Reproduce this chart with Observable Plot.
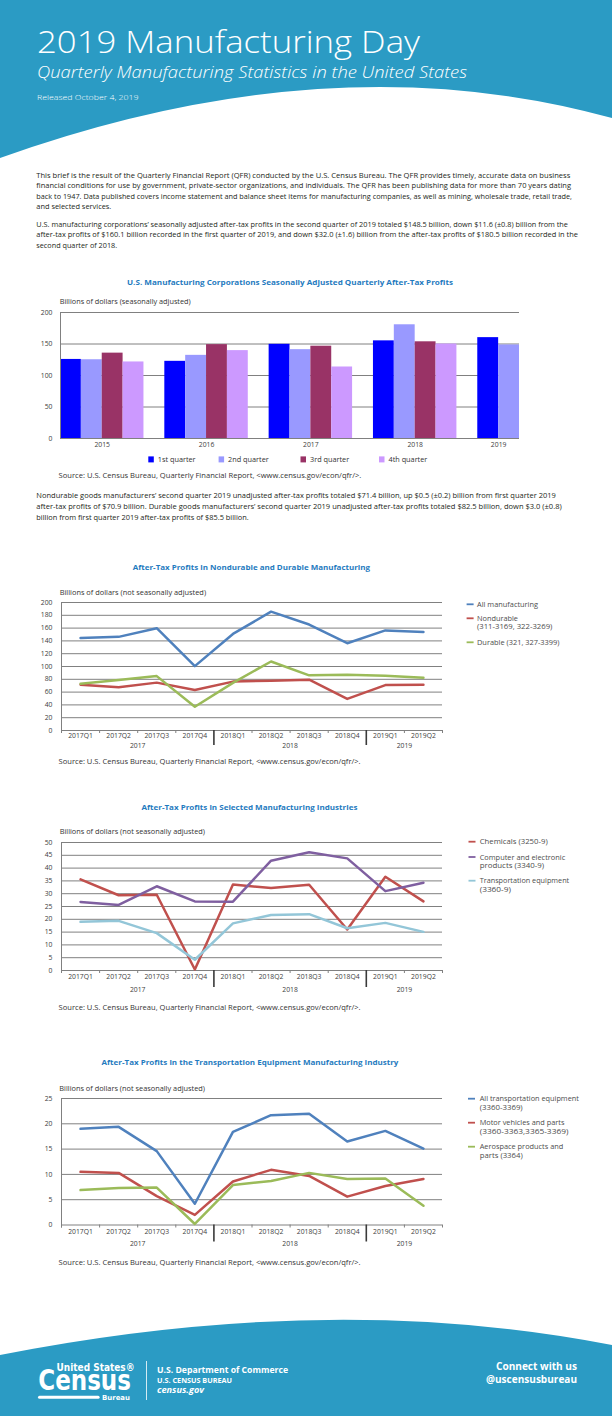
<!DOCTYPE html>
<html><head><meta charset="utf-8">
<script src="https://cdn.jsdelivr.net/npm/d3@7"></script>
<script src="https://cdn.jsdelivr.net/npm/@observablehq/plot@0.6"></script>
<style>
html,body{margin:0;padding:0;background:#fff;}
#page{position:relative;width:612px;height:1416px;overflow:hidden;font-family:"Open Sans",sans-serif;}
.chart{position:absolute;left:0;width:612px;}
#deco{position:absolute;left:0;top:0;pointer-events:none;}
#deco text{font-family:"Open Sans",sans-serif;}
.para{font-size:7px;fill:#231f20;}
.ctitle{font-size:7.6px;font-weight:700;fill:#1f7bc0;}
.axlab{font-size:7px;fill:#333;}
.src{font-size:7px;fill:#333;}
.leg{font-size:7px;fill:#4d4d4d;}
#deco text.cond{font-family:"Liberation Sans Narrow","DejaVu Sans Condensed","Roboto",sans-serif;font-weight:700;}
</style></head><body>
<div id="page">
<div class="chart" id="c1" style="top:296px"></div>
<div class="chart" id="c2" style="top:590px"></div>
<div class="chart" id="c3" style="top:830px"></div>
<div class="chart" id="c4" style="top:1086px"></div>

<svg id="deco" width="612" height="1416" viewBox="0 0 612 1416">
  <path d="M0,0H612V118Q330,40 0,158Z" fill="#2b9bc4"/>
  <path d="M0,1355Q330,1290 612,1345V1416H0Z" fill="#2b9bc4"/>

  <text x="37" y="53" textLength="383" lengthAdjust="spacingAndGlyphs" style="font-size:30.5px;font-weight:300;fill:#fff">2019 Manufacturing Day</text>
  <text x="37" y="77.5" textLength="430" lengthAdjust="spacingAndGlyphs" style="font-size:16.5px;font-weight:300;font-style:italic;fill:#fff">Quarterly Manufacturing Statistics in the United States</text>
  <text x="37" y="100" textLength="101.6" lengthAdjust="spacingAndGlyphs" style="font-size:7.5px;font-weight:300;fill:#fff">Released October 4, 2019</text>

  <text class="para" x="36.3" y="177.5" textLength="534" lengthAdjust="spacingAndGlyphs">This brief is the result of the Quarterly Financial Report (QFR) conducted by the U.S. Census Bureau. The QFR provides timely, accurate data on business</text>
  <text class="para" x="36.3" y="188" textLength="534.7" lengthAdjust="spacingAndGlyphs">financial conditions for use by government, private-sector organizations, and individuals. The QFR has been publishing data for more than 70 years dating</text>
  <text class="para" x="36.3" y="198.5" textLength="535.7" lengthAdjust="spacingAndGlyphs">back to 1947. Data published covers income statement and balance sheet items for manufacturing companies, as well as mining, wholesale trade, retail trade,</text>
  <text class="para" x="36.3" y="209" textLength="75" lengthAdjust="spacingAndGlyphs">and selected services.</text>
  <text class="para" x="36.3" y="226.8" textLength="531.7" lengthAdjust="spacingAndGlyphs">U.S. manufacturing corporations’ seasonally adjusted after-tax profits in the second quarter of 2019 totaled $148.5 billion, down $11.6 (±0.8) billion from the</text>
  <text class="para" x="36.3" y="237.4" textLength="541.7" lengthAdjust="spacingAndGlyphs">after-tax profits of $160.1 billion recorded in the first quarter of 2019, and down $32.0 (±1.6) billion from the after-tax profits of $180.5 billion recorded in the</text>
  <text class="para" x="36.3" y="248" textLength="80.8" lengthAdjust="spacingAndGlyphs">second quarter of 2018.</text>

  <text class="ctitle" x="127" y="285.3" textLength="326" lengthAdjust="spacingAndGlyphs">U.S. Manufacturing Corporations Seasonally Adjusted Quarterly After-Tax Profits</text>
  <text class="axlab" x="59.7" y="304.2" textLength="131" lengthAdjust="spacingAndGlyphs">Billions of dollars (seasonally adjusted)</text>
  <g id="leg1"></g>
  <text class="src" x="58.6" y="477.5" textLength="302.7" lengthAdjust="spacingAndGlyphs">Source: U.S. Census Bureau, Quarterly Financial Report, &lt;www.census.gov/econ/qfr/&gt;.</text>

  <text class="para" x="36.3" y="497.5" textLength="519.5" lengthAdjust="spacingAndGlyphs">Nondurable goods manufacturers’ second quarter 2019 unadjusted after-tax profits totaled $71.4 billion,  up $0.5 (±0.2) billion from first quarter 2019</text>
  <text class="para" x="36.3" y="509" textLength="525.4" lengthAdjust="spacingAndGlyphs">after-tax profits of $70.9 billion. Durable goods manufacturers’ second quarter 2019 unadjusted after-tax profits totaled $82.5 billion, down $3.0 (±0.8)</text>
  <text class="para" x="36.3" y="519.8" textLength="212.5" lengthAdjust="spacingAndGlyphs">billion from first quarter 2019 after-tax profits of $85.5 billion.</text>

  <text class="ctitle" x="132.7" y="569.5" textLength="237.3" lengthAdjust="spacingAndGlyphs">After-Tax Profits in Nondurable and Durable Manufacturing</text>
  <text class="axlab" x="59.7" y="594.8" textLength="146.4" lengthAdjust="spacingAndGlyphs">Billions of dollars (not seasonally adjusted)</text>
  <g id="leg2"></g>
  <text class="src" x="58.6" y="764.2" textLength="302" lengthAdjust="spacingAndGlyphs">Source: U.S. Census Bureau, Quarterly Financial Report, &lt;www.census.gov/econ/qfr/&gt;.</text>

  <text class="ctitle" x="141.4" y="809.8" textLength="216" lengthAdjust="spacingAndGlyphs">After-Tax Profits in Selected Manufacturing Industries</text>
  <text class="axlab" x="59.7" y="834.2" textLength="145.3" lengthAdjust="spacingAndGlyphs">Billions of dollars (not seasonally adjusted)</text>
  <g id="leg3"></g>
  <text class="src" x="58.6" y="1009.8" textLength="302" lengthAdjust="spacingAndGlyphs">Source: U.S. Census Bureau, Quarterly Financial Report, &lt;www.census.gov/econ/qfr/&gt;.</text>

  <text class="ctitle" x="101.5" y="1064.8" textLength="296.9" lengthAdjust="spacingAndGlyphs">After-Tax Profits in the Transportation Equipment Manufacturing Industry</text>
  <text class="axlab" x="59.3" y="1090.8" textLength="145.7" lengthAdjust="spacingAndGlyphs">Billions of dollars (not seasonally adjusted)</text>
  <g id="leg4"></g>
  <text class="src" x="58.6" y="1264.8" textLength="302" lengthAdjust="spacingAndGlyphs">Source: U.S. Census Bureau, Quarterly Financial Report, &lt;www.census.gov/econ/qfr/&gt;.</text>

  <!-- footer: Census wordmark as one text block -->
  <text class="cond" style="fill:#fff"><tspan x="56.6" y="1370.5" textLength="78" lengthAdjust="spacingAndGlyphs" style="font-size:11px">United States®</tspan><tspan x="38.3" y="1390" textLength="92.6" lengthAdjust="spacingAndGlyphs" style="font-size:28px">Census</tspan><tspan x="102" y="1400" textLength="28" lengthAdjust="spacingAndGlyphs" style="font-size:7px">Bureau</tspan></text>
  <rect x="38" y="1395.8" width="61.6" height="3" rx="1.5" fill="#fff"/>
  <line x1="146.5" x2="146.5" y1="1361" y2="1400" stroke="#fff" stroke-width="0.8"/>
  <text x="157" y="1373.3" textLength="131" lengthAdjust="spacingAndGlyphs" style="font-size:9.5px;font-weight:700;fill:#fff">U.S. Department of Commerce</text>
  <text x="157" y="1383" textLength="75" lengthAdjust="spacingAndGlyphs" style="font-size:6.5px;font-weight:700;fill:#fff">U.S. CENSUS BUREAU</text>
  <text x="157" y="1393.3" textLength="47" lengthAdjust="spacingAndGlyphs" style="font-size:9px;font-weight:700;font-style:italic;fill:#fff">census.gov</text>
  <text x="577" y="1370" text-anchor="end" textLength="81" lengthAdjust="spacingAndGlyphs" style="font-size:10px;font-weight:700;fill:#fff">Connect with us</text>
  <text x="577" y="1382.5" text-anchor="end" textLength="91" lengthAdjust="spacingAndGlyphs" style="font-size:10px;font-weight:700;fill:#fff">@uscensusbureau</text>
</svg>
</div>

<script>
// ---------- Chart 1 data ----------
const years1 = ["2015", "2016", "2017", "2018", "2019"];
const quarterNames = ["1st quarter", "2nd quarter", "3rd quarter", "4th quarter"];
const q1Profits = [125.5, 122.5, 149.5, 155.0, 160.1];
const q2Profits = [125.0, 132.0, 141.0, 180.5, 148.5];
const q3Profits = [135.5, 149.0, 146.5, 153.5];
const q4Profits = [121.5, 139.5, 113.5, 150.0];
const barColors = ["#0000ff", "#9999ff", "#993366", "#cc99ff"];
const yTicks1 = [0, 50, 100, 150, 200];

// ---------- Line chart data ----------
const quarters = ["2017Q1", "2017Q2", "2017Q3", "2017Q4", "2018Q1", "2018Q2", "2018Q3", "2018Q4", "2019Q1", "2019Q2"];

const names2 = ["All manufacturing", "Nondurable", "Durable"];
const allManufacturing = [144.5, 146.3, 159.8, 100.6, 150.9, 185.7, 165.6, 136.4, 156.4, 153.9];
const nondurable = [71.5, 67.5, 74.8, 63.4, 76.4, 77.9, 79.4, 49.4, 70.9, 71.4];
const durable = [73.0, 78.8, 85.0, 37.2, 74.5, 107.8, 86.2, 87.0, 85.5, 82.5];
const colors2 = ["#4f81bd", "#c0504d", "#9bbb59"];

const names3 = ["Chemicals", "Computer and electronic products", "Transportation equipment"];
const chemicals = [35.6, 29.4, 29.6, 0.4, 33.6, 32.2, 33.5, 16.0, 36.6, 27.0];
const computerElectronic = [26.8, 25.6, 32.9, 27.0, 26.9, 42.9, 46.2, 43.8, 31.0, 34.3];
const transportationEquip = [19.0, 19.4, 14.6, 4.2, 18.4, 21.7, 22.0, 16.5, 18.6, 15.1];
const colors3 = ["#c0504d", "#7f5fa0", "#93c6d8"];

const names4 = ["All transportation equipment", "Motor vehicles and parts", "Aerospace products and parts"];
const allTransportation = [19.0, 19.4, 14.6, 4.2, 18.4, 21.7, 22.0, 16.5, 18.6, 15.1];
const motorVehicles = [10.5, 10.3, 5.7, 2.0, 8.6, 10.9, 9.7, 5.6, 7.7, 9.1];
const aerospace = [6.9, 7.3, 7.4, 0.2, 7.9, 8.7, 10.3, 9.1, 9.2, 3.8];
const colors4 = ["#4f81bd", "#c0504d", "#9bbb59"];

const plotStyle = {fontFamily: "'Open Sans', sans-serif", fontSize: "7px", color: "#404040", background: "transparent", overflow: "visible"};
const gridColor = "#808080";
const SVGNS = "http://www.w3.org/2000/svg";

// ---------- Chart 1: grouped bars ----------
(function () {
  const seriesQ = [q1Profits, q2Profits, q3Profits, q4Profits];
  const slotsPerYear = quarterNames.length + 1; // four bars + one gap
  const rows = [];
  seriesQ.forEach((vals, k) => vals.forEach((v, i) => rows.push({year: years1[i], quarter: quarterNames[k], value: v, slot: i * slotsPerYear + k})));
  const yearLabels = years1.map((y, i) => {
    const n = seriesQ.filter(s => s[i] != null).length;
    return {year: y, center: i * slotsPerYear + n / 2, n};
  });
  const last = yearLabels[yearLabels.length - 1];
  const xMax = (years1.length - 1) * slotsPerYear + last.n;
  const plot = Plot.plot({
    width: 612, height: 162,
    marginTop: 16, marginBottom: 20, marginLeft: 60, marginRight: 93,
    x: {domain: [0, xMax], axis: null, label: null},
    y: {domain: [0, 200], label: null},
    color: {domain: quarterNames, range: barColors},
    style: plotStyle,
    marks: [
      Plot.gridY(yTicks1, {stroke: gridColor, strokeOpacity: 1}),
      Plot.rectY(rows, {x1: "slot", x2: d => d.slot + 1, y: "value", fill: "quarter"}),
      Plot.ruleX([0], {stroke: gridColor}),
      Plot.ruleY([0], {stroke: gridColor}),
      Plot.axisY(yTicks1, {tickSize: 0, tickPadding: 8, fontSize: 6.8, fill: "#404040", label: null}),
      Plot.text(yearLabels, {x: "center", text: "year", frameAnchor: "bottom", dy: 8.7, fontSize: 6.8, fill: "#404040"})
    ]
  });
  document.getElementById("c1").append(plot);

  // legend
  const g = document.getElementById("leg1");
  const lx = [148.3, 218.6, 300.5, 379];
  quarterNames.forEach((name, i) => {
    const r = document.createElementNS(SVGNS, "rect");
    r.setAttribute("x", lx[i]); r.setAttribute("y", 456.4); r.setAttribute("width", 5.5); r.setAttribute("height", 6);
    r.setAttribute("fill", barColors[i]);
    g.append(r);
    const t = document.createElementNS(SVGNS, "text");
    t.setAttribute("x", lx[i] + 9.5); t.setAttribute("y", 462.2); t.setAttribute("class", "leg");
    t.style.fontSize = "7.3px"; t.style.fill = "#333";
    t.textContent = name;
    g.append(t);
  });
})();

// ---------- Line charts ----------
function drawLineChart(cfg) {
  const rows = cfg.series.flatMap((vals, k) => vals.map((v, i) => ({series: cfg.names[k], pos: i + 0.5, value: v})));
  const yTicks = d3.range(0, cfg.yMax + cfg.yStep / 2, cfg.yStep);
  const n = quarters.length;
  const groups = d3.groups(quarters.map((q, i) => ({q, i})), d => d.q.slice(0, 4))
    .map(([year, items]) => ({year, start: items[0].i, center: items[0].i + items.length / 2}));
  const seps = groups.slice(1).map(d => d.start);
  const smallTicks = d3.range(0, n + 1).filter(b => !seps.includes(b));
  const plot = Plot.plot({
    width: 612, height: cfg.mt + cfg.ph + cfg.mb,
    marginTop: cfg.mt, marginBottom: cfg.mb, marginLeft: 61, marginRight: 170,
    x: {domain: [0, n], label: null},
    y: {domain: [0, cfg.yMax], label: null},
    color: {domain: cfg.names, range: cfg.colors},
    style: plotStyle,
    marks: [
      Plot.gridY(yTicks, {stroke: gridColor, strokeOpacity: 1}),
      Plot.ruleX([0], {stroke: gridColor, insetBottom: -3}),
      Plot.axisX(smallTicks, {tickSize: 3, tickFormat: () => "", stroke: gridColor, strokeOpacity: 1, label: null}),
      Plot.axisX(seps, {tickSize: cfg.sepLen, tickFormat: () => "", stroke: "#3a3a3a", strokeWidth: 1.6, strokeOpacity: 1, label: null}),
      Plot.axisY(yTicks, {tickSize: 0, tickPadding: 9, fontSize: 6.8, fill: "#404040", label: null}),
      Plot.line(rows, {x: "pos", y: "value", z: "series", stroke: "series", strokeWidth: 2.5}),
      Plot.text(quarters, {x: (d, i) => i + 0.5, text: d => d, frameAnchor: "bottom", dy: cfg.catDy, fontSize: 6.8, fill: "#404040"}),
      Plot.text(groups, {x: "center", text: "year", frameAnchor: "bottom", dy: cfg.yearDy, fontSize: 6.8, fill: "#404040"})
    ]
  });
  document.getElementById(cfg.el).append(plot);

  // legend (in the page overlay)
  const g = document.getElementById(cfg.leg);
  cfg.legendLines.forEach((lines, k) => {
    const y = cfg.legendY[k];
    const l = document.createElementNS(SVGNS, "line");
    l.setAttribute("x1", cfg.swatchX); l.setAttribute("x2", cfg.swatchX + 7);
    l.setAttribute("y1", y); l.setAttribute("y2", y);
    l.setAttribute("stroke", cfg.colors[k]); l.setAttribute("stroke-width", 1.8);
    g.append(l);
    lines.forEach(([txt, len], j) => {
      const t = document.createElementNS(SVGNS, "text");
      t.setAttribute("x", cfg.textX); t.setAttribute("y", y + 2.5 + j * 8.6);
      t.setAttribute("class", "leg");
      t.setAttribute("textLength", len); t.setAttribute("lengthAdjust", "spacingAndGlyphs");
      t.textContent = txt;
      g.append(t);
    });
  });
}

drawLineChart({
  el: "c2", leg: "leg2", series: [allManufacturing, nondurable, durable], names: names2, colors: colors2,
  yMax: 200, yStep: 20, mt: 12, ph: 128, mb: 24, catDy: 7.7, yearDy: 17.7, sepLen: 15,
  swatchX: 466.6, textX: 477, legendY: [604.3, 618.3, 642.3],
  legendLines: [[["All manufacturing", 61]], [["Nondurable", 41], ["(311-3169, 322-3269)", 75.4]], [["Durable (321, 327-3399)", 82.4]]]
});
drawLineChart({
  el: "c3", leg: "leg3", series: [chemicals, computerElectronic, transportationEquip], names: names3, colors: colors3,
  yMax: 50, yStep: 5, mt: 12, ph: 128, mb: 26, catDy: 8, yearDy: 21, sepLen: 17,
  swatchX: 468.5, textX: 479.7, legendY: [841.7, 857, 880.7],
  legendLines: [[["Chemicals (3250-9)", 68]], [["Computer and electronic", 85.5], ["products (3340-9)", 64.5]], [["Transportation equipment", 89.5], ["(3360-9)", 31.3]]]
});
drawLineChart({
  el: "c4", leg: "leg4", series: [allTransportation, motorVehicles, aerospace], names: names4, colors: colors4,
  yMax: 25, yStep: 5, mt: 12, ph: 126.5, mb: 26, catDy: 8.5, yearDy: 20.5, sepLen: 17,
  swatchX: 468, textX: 479.7, legendY: [1098.7, 1122.7, 1146.7],
  legendLines: [[["All transportation equipment", 99.2], ["(3360-3369)", 43]], [["Motor vehicles and parts", 84.8], ["(3360-3363,3365-3369)", 88.7]], [["Aerospace products and", 83.6], ["parts (3364)", 43]]]
});
</script>
</body></html>
